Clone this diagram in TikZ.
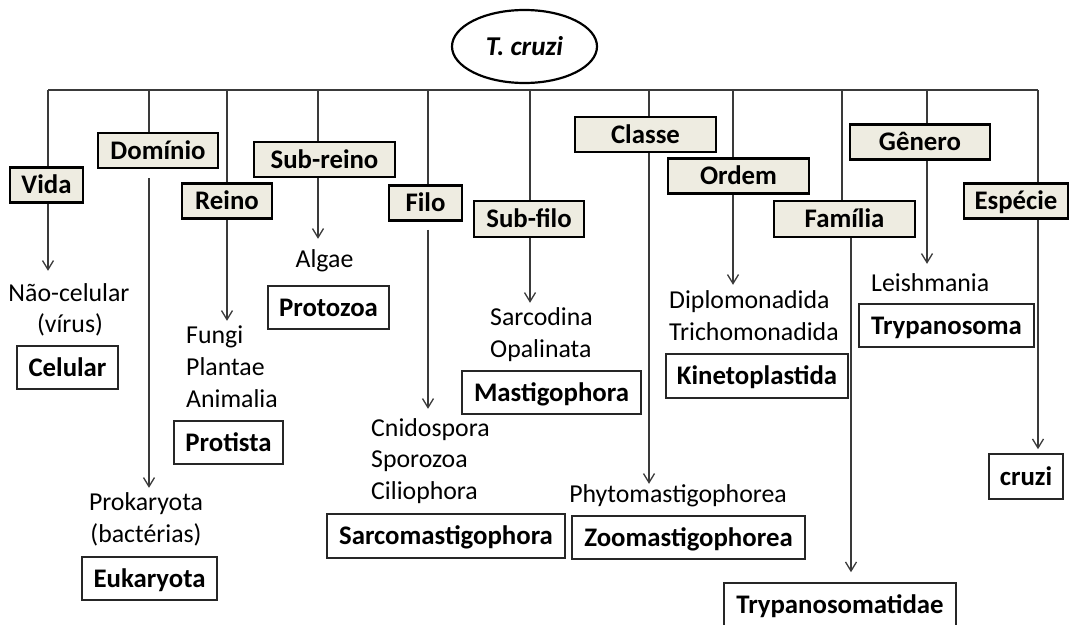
\documentclass[tikz,border=0pt]{standalone}
\usepackage{fontspec}
\setmainfont{Carlito}
\usetikzlibrary{shapes.geometric,arrows.meta}
\definecolor{hdrfill}{HTML}{EEECE1}
\definecolor{lncol}{HTML}{3A3A3A}
\begin{document}
\begin{tikzpicture}[x=1pt,y=-1pt,
  lbl/.style={font=\fontsize{25.8}{32}\selectfont, inner sep=0pt, text height=15.5pt, text depth=5pt},
  hdr/.style={rectangle, draw=black, fill=hdrfill, line width=2.5pt, inner sep=0pt,
    font=\bfseries\fontsize{26.8}{32}\selectfont, text height=17pt, text depth=0pt, minimum height=35pt},
  res/.style={rectangle, draw=black!85, fill=white, line width=1.6pt, inner sep=0pt,
    font=\bfseries\fontsize{26.8}{32}\selectfont, text height=17pt, text depth=0pt, minimum height=43pt},
  root/.style={ellipse, draw=black, line width=2.2pt, inner sep=0pt, minimum width=145pt, minimum height=73pt,
    font=\bfseries\itshape\fontsize{27.2}{32}\selectfont, text height=17pt, text depth=0pt},
  conn/.style={draw=lncol, line width=1.3pt},
  arr/.style={conn, -{Straight Barb[length=9pt,width=11pt]}}
]
\useasboundingbox (0,0) rectangle (1071,624);
\fill[white] (0,0) rectangle (1071,624);

% root
\node[root] (root) at (524.5,46.5) {T. cruzi};

% bus coordinates
\coordinate (cVida) at (48,90);
\coordinate (cDom) at (149,90);
\coordinate (cReino) at (227,90);
\coordinate (cSubreino) at (318,90);
\coordinate (cFilo) at (428,90);
\coordinate (cSubfilo) at (530,90);
\coordinate (cClasse) at (649,90);
\coordinate (cOrdem) at (733,90);
\coordinate (cFam) at (842,90);
\coordinate (cFamLow) at (851,90);
\coordinate (cGen) at (927,90);
\coordinate (cEsp) at (1038,90);

% header boxes
\node[hdr, minimum width=73pt] (vida) at (46.5,185) {Vida};
\node[hdr, minimum width=120pt] (dom) at (158,150.5) {Domínio};
\node[hdr, minimum width=90pt] (reino) at (227,201) {Reino};
\node[hdr, minimum width=141pt] (subreino) at (324.5,159.5) {Sub-reino};
\node[hdr, minimum width=73pt] (filo) at (425.5,203) {Filo};
\node[hdr, minimum width=110pt, minimum height=36pt] (subfilo) at (529,219) {Sub-filo};
\node[hdr, minimum width=141pt] (classe) at (645.5,134.5) {Classe};
\node[hdr, minimum width=141pt] (ordem) at (738.5,176) {Ordem};
\node[hdr, minimum width=141pt, minimum height=36pt] (familia) at (844.5,219) {Família};
\node[hdr, minimum width=140pt] (genero) at (920,142) {Gênero};
\node[hdr, minimum width=104pt] (especie) at (1016,201) {Espécie};

% plain text lines
\node[lbl, anchor=base] (nao1) at (69,301) {Não-celular};
\node[lbl, anchor=base] (nao2) at (70,332) {(vírus)};
\node[lbl, anchor=base] (prok1) at (146,510) {Prokaryota};
\node[lbl, anchor=base] (prok2) at (146,542) {(bactérias)};
\node[lbl, anchor=base west] (fungi) at (186,343) {Fungi};
\node[lbl, anchor=base west] (plantae) at (186,375) {Plantae};
\node[lbl, anchor=base west] (animalia) at (186,407) {Animalia};
\node[lbl, anchor=base] (algae) at (324.5,267) {Algae};
\node[lbl, anchor=base west] (cnido) at (371,436) {Cnidospora};
\node[lbl, anchor=base west] (sporo) at (371,467.5) {Sporozoa};
\node[lbl, anchor=base west] (cilio) at (371,499) {Ciliophora};
\node[lbl, anchor=base west] (sarcod) at (490,325) {Sarcodina};
\node[lbl, anchor=base west] (opal) at (490,357) {Opalinata};
\node[lbl, anchor=base] (phyto) at (678,502) {Phytomastigophorea};
\node[lbl, anchor=base west] (diplo) at (669,308) {Diplomonadida};
\node[lbl, anchor=base west] (tricho) at (669,340) {Trichomonadida};
\node[lbl, anchor=base west] (leish) at (871,291) {Leishmania};

% result boxes
\node[res, minimum width=101pt] (celular) at (67.5,367.5) {Celular};
\node[res, minimum width=135pt] (euk) at (149.5,578.5) {Eukaryota};
\node[res, minimum width=109pt] (protista) at (228.5,442.5) {Protista};
\node[res, minimum width=121pt] (protozoa) at (328.5,307.5) {Protozoa};
\node[res, minimum width=238pt, minimum height=44pt] (sarcomast) at (446,536) {Sarcomastigophora};
\node[res, minimum width=179pt] (mastig) at (551.5,392.5) {Mastigophora};
\node[res, minimum width=233pt] (zoomast) at (688.5,537.5) {Zoomastigophorea};
\node[res, minimum width=182pt, minimum height=44pt] (kineto) at (757,376) {Kinetoplastida};
\node[res, minimum width=175pt] (trypa) at (946.5,325.5) {Trypanosoma};
\node[res, minimum width=232pt, minimum height=44pt] (trypatid) at (840,605) {Trypanosomatidae};
\node[res, minimum width=74pt, minimum height=45pt] (cruzi) at (1026,476.5) {cruzi};

% bus
\draw[conn] (cVida) -- (cEsp);

% bus to header boxes
\draw[conn] (cVida) -- (cVida |- vida.north);
\draw[conn] (cDom) -- (cDom |- dom.north);
\draw[conn] (cReino) -- (cReino |- reino.north);
\draw[conn] (cSubreino) -- (cSubreino |- subreino.north);
\draw[conn] (cFilo) -- (cFilo |- filo.north);
\draw[conn] (cSubfilo) -- (cSubfilo |- subfilo.north);
\draw[conn] (cClasse) -- (cClasse |- classe.north);
\draw[conn] (cOrdem) -- (cOrdem |- ordem.north);
\draw[conn] (cFam) -- (cFam |- familia.north);
\draw[conn] (cGen) -- (cGen |- genero.north);
\draw[conn] (cEsp) -- (cEsp |- especie.north);

% header boxes to their groups
\draw[arr, shorten >=14.5pt] (cVida |- vida.south) -- (cVida |- nao1.north);
\draw[arr, shorten <=9pt, shorten >=6.5pt] (cDom |- dom.south) -- (cDom |- prok1.north);
\draw[arr, shorten >=6.5pt] (cReino |- reino.south) -- (cReino |- fungi.north);
\draw[arr, shorten >=12.5pt] (cSubreino |- subreino.south) -- (cSubreino |- algae.north);
\draw[arr, shorten <=8pt, shorten >=11.5pt] (cFilo |- filo.south) -- (cFilo |- cnido.north);
\draw[arr, shorten >=6.5pt] (cSubfilo |- subfilo.south) -- (cSubfilo |- sarcod.north);
\draw[arr, shorten >=2.5pt] (cClasse |- classe.south) -- (cClasse |- phyto.north);
\draw[arr, shorten >=7.5pt] (cOrdem |- ordem.south) -- (cOrdem |- diplo.north);
\draw[arr, shorten >=10pt] (cFamLow |- familia.south) -- (cFamLow |- trypatid.north);
\draw[arr, shorten >=11.5pt] (cGen |- genero.south) -- (cGen |- leish.north);
\draw[arr, shorten >=4pt] (cEsp |- especie.south) -- (cEsp |- cruzi.north);
\end{tikzpicture}
\end{document}
